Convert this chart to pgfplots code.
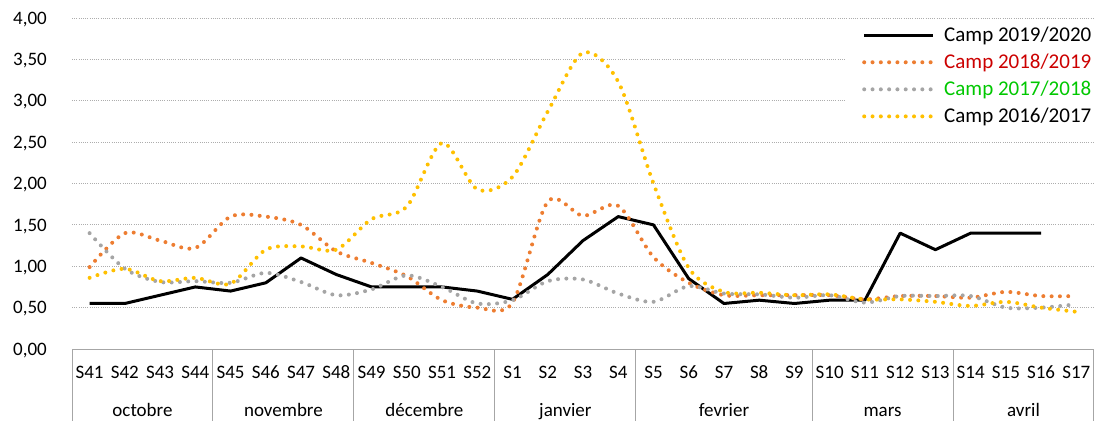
\documentclass[border=0pt]{standalone}
\usepackage{pgfplots}
\pgfplotsset{compat=1.18}
\usepackage{fontspec}
\setmainfont{Carlito}

\definecolor{c1819}{HTML}{ED7D31}
\definecolor{c1718}{HTML}{A5A5A5}
\definecolor{c1617}{HTML}{FFC000}
\definecolor{txtred}{HTML}{CC0000}
\definecolor{txtgreen}{HTML}{00C800}
\definecolor{axgray}{HTML}{A6A6A6}
\definecolor{gridgray}{HTML}{ADADAD}

\begin{document}
\begin{tikzpicture}[x=1bp,y=1bp]
\begin{axis}[
  at={(72bp,72bp)}, anchor=south west,
  scale only axis, width=1022bp, height=331bp,
  xmin=-0.5, xmax=28.5, ymin=0, ymax=4,
  clip=false,
  axis line style={draw=none},
  major tick length=0pt,
  tick style={draw=none},
  xtick={0,...,28},
  xticklabels={S41,S42,S43,S44,S45,S46,S47,S48,S49,S50,S51,S52,S1,S2,S3,S4,S5,S6,S7,S8,S9,S10,S11,S12,S13,S14,S15,S16,S17},
  xticklabel style={font=\fontsize{19bp}{22bp}\selectfont, anchor=base, inner sep=0pt, yshift=-29bp},
  ytick={0,0.5,1,1.5,2,2.5,3,3.5,4},
  ymajorgrids,
  grid style={gridgray, line width=0.75bp, dash pattern=on 1bp off 1.2bp},
  yticklabel style={font=\fontsize{19bp}{22bp}\selectfont, anchor=east, inner sep=0pt, text depth=0pt, xshift=-25bp,
    /pgf/number format/.cd, fixed, fixed zerofill, precision=2, use comma, assume math mode=true},
  legend style={at={(0.7564,0.994)}, anchor=north west, draw=none, fill=white,
    inner xsep=17bp, inner ysep=5bp, column sep=7bp, row sep=7bp,
    font=\fontsize{21bp}{25bp}\selectfont},
  legend cell align=left,
  legend image code/.code={\draw[#1] (0bp,0bp) -- (69bp,0bp);},
  dotline/.style={line width=4bp, line cap=round, dash pattern=on 0bp off 8.3bp, smooth},
]
% Camp 2019/2020
\addplot[black, line width=3bp, line join=round] coordinates {
 (0,0.55) (1,0.55) (2,0.65) (3,0.75) (4,0.70) (5,0.80) (6,1.10) (7,0.90)
 (8,0.75) (9,0.75) (10,0.75) (11,0.70) (12,0.60) (13,0.90) (14,1.31) (15,1.60)
 (16,1.50) (17,0.85) (18,0.55) (19,0.59) (20,0.55) (21,0.59) (22,0.59) (23,1.40)
 (24,1.20) (25,1.40) (26,1.40) (27,1.40)};
\addlegendentry{Camp 2019/2020}
% Camp 2018/2019
\addplot[c1819, dotline] coordinates {
 (0,0.99) (1,1.40) (2,1.31) (3,1.22) (4,1.60) (5,1.60) (6,1.50) (7,1.18)
 (8,1.04) (9,0.88) (10,0.59) (11,0.50) (12,0.56) (13,1.78) (14,1.61) (15,1.73)
 (16,1.11) (17,0.80) (18,0.65) (19,0.65) (20,0.65) (21,0.65) (22,0.60) (23,0.64)
 (24,0.64) (25,0.62) (26,0.69) (27,0.64) (28,0.64)};
\addlegendentry{\textcolor{txtred}{Camp 2018/2019}}
% Camp 2017/2018
\addplot[c1718, dotline] coordinates {
 (0,1.40) (1,0.97) (2,0.81) (3,0.82) (4,0.80) (5,0.92) (6,0.81) (7,0.65)
 (8,0.72) (9,0.89) (10,0.75) (11,0.55) (12,0.59) (13,0.82) (14,0.84) (15,0.67)
 (16,0.57) (17,0.76) (18,0.67) (19,0.66) (20,0.62) (21,0.65) (22,0.56) (23,0.64)
 (24,0.64) (25,0.64) (26,0.50) (27,0.50) (28,0.54)};
\addlegendentry{\textcolor{txtgreen}{Camp 2017/2018}}
% Camp 2016/2017
\addplot[c1617, dotline] coordinates {
 (0,0.86) (1,0.97) (2,0.82) (3,0.86) (4,0.79) (5,1.20) (6,1.24) (7,1.20)
 (8,1.57) (9,1.72) (10,2.49) (11,1.93) (12,2.08) (13,2.87) (14,3.58) (15,3.23)
 (16,2.00) (17,0.98) (18,0.69) (19,0.68) (20,0.65) (21,0.66) (22,0.60) (23,0.60)
 (24,0.57) (25,0.52) (26,0.57) (27,0.50) (28,0.45)};
\addlegendentry{Camp 2016/2017}

% category axis frame
\draw[axgray, line width=1bp] (axis cs:-0.5,0) -- (axis cs:28.5,0);
\draw[axgray, line width=1bp] (axis cs:-0.5,0) -- ++(0bp,-72bp);
\draw[axgray, line width=1bp] (axis cs:3.5,0) -- ++(0bp,-72bp);
\draw[axgray, line width=1bp] (axis cs:7.5,0) -- ++(0bp,-72bp);
\draw[axgray, line width=1bp] (axis cs:11.5,0) -- ++(0bp,-72bp);
\draw[axgray, line width=1bp] (axis cs:15.5,0) -- ++(0bp,-72bp);
\draw[axgray, line width=1bp] (axis cs:20.5,0) -- ++(0bp,-72bp);
\draw[axgray, line width=1bp] (axis cs:24.5,0) -- ++(0bp,-72bp);
\draw[axgray, line width=1bp] (axis cs:28.5,0) -- ++(0bp,-72bp);

\tikzset{month/.style={anchor=base, inner sep=0pt, yshift=-67bp, font=\fontsize{19bp}{22bp}\selectfont}}
\node[month] at (axis cs:1.5,0) {octobre};
\node[month] at (axis cs:5.5,0) {novembre};
\node[month] at (axis cs:9.5,0) {décembre};
\node[month] at (axis cs:13.5,0) {janvier};
\node[month] at (axis cs:18,0) {fevrier};
\node[month] at (axis cs:22.5,0) {mars};
\node[month] at (axis cs:26.5,0) {avril};
\end{axis}
\pgfresetboundingbox
\path (0bp,0bp) rectangle (1096bp,421bp);
\end{tikzpicture}
\end{document}
